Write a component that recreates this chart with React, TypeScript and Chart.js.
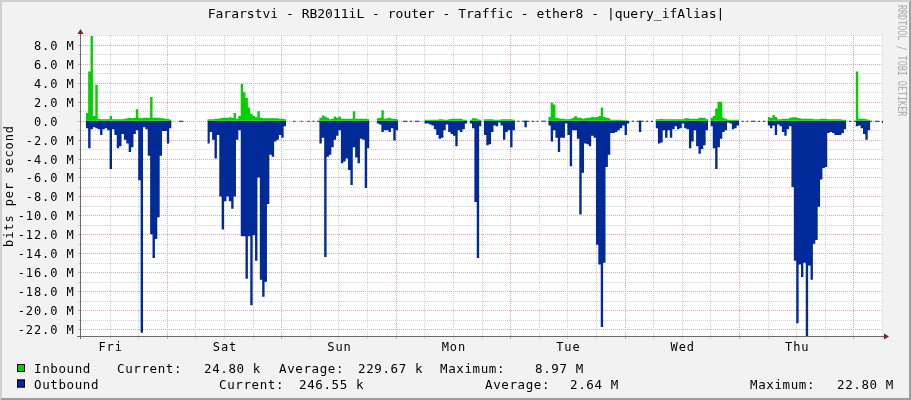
import React, { useEffect, useRef } from "react";
import { Chart, registerables } from "chart.js";

Chart.register(...registerables);

const W = 911;
const H = 400;
const FONT = '"DejaVu Sans Mono", monospace';

const TITLE = "Fararstvi - RB2011iL - router - Traffic - ether8 - |query_ifAlias|";
const Y_AXIS_TITLE = "bits per second";
const WATERMARK = "RRDTOOL / TOBI OETIKER";

// one sample every 30 minutes, starting Fri 06:00 (hours from start)
const STEP_HOURS = 0.5;
const X_MIN_H = 0;
const X_MAX_H = 168.2;
const Y_MIN_M = -22.74;
const Y_MAX_M = 9.05;

// Inbound, Mbit/s
const INBOUND_M: (number | null)[] = [
  null, null, 0.8, 5.2, 8.95, 0.5, 3.8, 0.2, 0.15, 0.15, 0.15, 0.15,
  0.5, 0.15, 0.15, 0.15, 0.15, 0.15, 0.2, 0.25, 0.3, 0.25, 0.3, 1.2,
  0.3, 0.25, 0.3, 0.3, 0.3, 2.5, 0.3, 0.3, 0.3, 0.25, 0.25, 0.2,
  0.2, 0.1, null, null, null, 0, 0, null, null, null, null, null,
  null, null, null, null, null, 0.15, 0.15, 0.15, 0.2, 0.2, 0.25, 0.3,
  0.3, 0.3, 0.35, 0.3, 0.8, 0.2, 0.5, 3.9, 3.0, 2.4, 1.4, 0.7,
  0.5, 0.35, 1.0, 0.3, 0.25, 0.25, 0.25, 0.25, 0.25, 0.25, 0.25, 0.2,
  0.2, 0.15, null, null, null, 0, null, null, 0, null, null, 0,
  null, 0, null, 0, 0.3, 0.55, 0.45, 0.3, 0.15, 0.2, 0.45, 0.3,
  0.45, 0.2, 0.2, 0.2, 0.2, 0.2, 1.0, 0.2, 0.2, 0.2, 0.2, 0.2,
  0.15, null, null, null, 0.25, 0.3, 1.1, 0.2, 0.25, 0.3, 0.2, 0.2,
  0.15, null, null, 0, 0, null, 0, null, 0, 0, null, null,
  0.1, 0.1, 0.1, 0.1, 0.1, 0.1, 0.15, 0.15, 0.1, 0.1, 0.15, 0.2,
  0.2, 0.2, 0.2, 0.2, 0.1, 0.1, null, 0.1, 0.25, 0.25, 0.15, 0.1,
  null, 0.15, 0.15, 0.15, 0.15, 0.1, 0.1, 0.1, 0.15, 0.15, 0.15, 0.15,
  0.15, 0.1, null, 0, null, 0, 0.05, 0, null, 0, null, 0,
  null, 0, 0, null, 0.4, 1.9, 1.7, 0.3, 0.25, 0.2, 0.2, 0.15,
  0.15, 0.2, 0.3, 0.5, 0.3, 0.3, 0.2, 0.25, 0.3, 0.3, 0.4, 0.35,
  0.4, 0.5, 1.4, 0.4, 0.3, 0.25, 0.1, 0.1, 0.1, 0.1, 0.1, 0.05,
  0.05, 0, null, 0, null, 0, 0.05, 0, null, 0, null, 0,
  null, 0.15, 0.15, 0.2, 0.15, 0.15, 0.15, 0.15, 0.15, 0.15, 0.15, 0.15,
  0.15, 0.25, 0.25, 0.2, 0.2, 0.2, 0.2, 0.3, 0.3, 0.3, 0.15, null,
  0.3, 0.5, 1.3, 2.0, 2.0, 0.3, 0.2, 0.1, 0.1, 0.1, 0.1, 0.1,
  null, 0, null, 0, null, 0, 0, null, 0, null, 0, null,
  0.4, 0.3, 0.6, 0.4, 0.15, 0.15, 0.2, 0.2, 0.2, 0.3, 0.35, 0.35,
  0.3, 0.25, 0.2, 0.2, 0.2, 0.2, 0.2, 0.15, 0.15, 0.15, 0.2, 0.2,
  0.2, 0.15, 0.15, 0.15, 0.15, 0.15, 0.15, 0.1, 0.1, null, 0, null,
  0, 5.2, 0.2, 0.2, 0.2, 0.15, 0.1, 0, null, 0, 0, null,
  0.025,
];

// Outbound, Mbit/s (drawn below zero)
const OUTBOUND_M: (number | null)[] = [
  null, null, 0.8, 2.9, 0.9, 0.7, 0.8, 0.9, 1.5, 0.9, 0.8, 1.0,
  5.1, 0.9, 1.5, 2.9, 2.7, 1.4, 2.0, 2.4, 3.3, 2.8, 1.4, 1.0,
  6.3, 22.4, 0.7, 0.9, 3.7, 12.0, 14.5, 12.5, 10.2, 3.7, 1.1, 1.1,
  2.4, 0.8, null, null, null, 0.1, 0.1, null, null, null, null, null,
  null, null, null, null, null, 2.4, 1.2, 2.0, 4.0, 1.5, 8.0, 11.5,
  8.5, 8.0, 8.5, 9.3, 8.0, 2.0, 1.0, 12.2, 12.2, 16.7, 12.2, 19.5,
  12.1, 14.8, 6.0, 16.8, 18.6, 17.0, 8.8, 3.6, 3.8, 2.2, 2.0, 1.5,
  1.8, 0.6, null, null, null, 0.1, null, null, 0.1, null, null, 0.1,
  null, 0.1, null, 0.1, 2.4, 1.8, 14.4, 3.8, 3.6, 2.8, 2.0, 1.6,
  1.0, 4.5, 4.3, 4.0, 5.2, 6.8, 2.8, 3.9, 4.5, 1.9, 2.0, 7.1,
  2.9, null, null, null, 0.3, 0.4, 1.2, 1.0, 1.0, 1.2, 0.8, 2.1,
  1.0, null, null, 0.1, 0.1, null, 0.1, null, 0.1, 0.1, null, null,
  0.3, 0.3, 0.4, 0.5, 0.9, 1.5, 1.9, 1.8, 1.0, 0.4, 1.2, 1.4,
  1.6, 2.7, 1.0, 1.2, 0.9, 0.3, null, 0.3, 0.8, 8.6, 14.5, 0.6,
  null, 1.5, 2.6, 2.5, 1.2, 0.5, 0.6, 0.2, 0.5, 2.0, 1.2, 1.0,
  2.8, 1.0, null, 0.1, null, 0.1, 0.7, 0.1, null, 0.1, null, 0.1,
  null, 0.1, 0.1, null, 0.5, 2.2, 1.0, 1.8, 3.3, 1.8, 1.8, 0.3,
  1.5, 4.8, 1.0, 1.0, 1.9, 9.9, 5.5, 2.4, 2.5, 2.7, 1.6, 1.8,
  13.1, 15.2, 21.8, 15.0, 4.9, 3.6, 1.3, 1.3, 1.2, 1.0, 0.8, 0.5,
  1.5, 0.3, null, 0.1, null, 0.1, 1.2, 0.1, null, 0.1, null, 0.1,
  null, 0.8, 2.4, 2.3, 1.0, 1.8, 1.0, 1.8, 0.9, 0.6, 0.9, 0.8,
  0.3, 0.8, 0.9, 2.9, 2.2, 1.0, 2.7, 3.5, 3.0, 2.6, 1.0, null,
  0.6, 2.9, 5.1, 2.8, 1.9, 1.2, 1.0, 0.2, 0.3, 0.9, 0.8, 0.5,
  null, 0.1, null, 0.1, null, 0.1, 0.1, null, 0.1, null, 0.1, null,
  0.5, 0.8, 0.5, 1.5, 0.4, 0.6, 1.2, 1.6, 0.9, 0.6, 7.0, 14.8,
  21.4, 15.2, 16.5, 15.0, 22.8, 15.3, 16.8, 13.0, 12.6, 9.1, 6.2, 5.0,
  4.9, 1.3, 1.2, 1.3, 1.5, 1.5, 1.5, 1.3, 0.9, null, 0.1, null,
  0.1, 0.6, 0.5, 0.8, 1.4, 2.0, 1.0, 0.1, null, 0.1, 0.1, null,
  0.25,
];

const Y_TICKS_M = [8, 6, 4, 2, 0, -2, -4, -6, -8, -10, -12, -14, -16, -18, -20, -22];
const Y_TICK_LABELS = [
  "8.0 M", "6.0 M", "4.0 M", "2.0 M", "0.0  ", "-2.0 M", "-4.0 M", "-6.0 M",
  "-8.0 M", "-10.0 M", "-12.0 M", "-14.0 M", "-16.0 M", "-18.0 M", "-20.0 M", "-22.0 M",
];
const Y_MINOR_STEP_M = 1;

const DAY_LABELS = ["Fri", "Sat", "Sun", "Mon", "Tue", "Wed", "Thu"];
const DAY_LABEL_HOURS = [6, 30, 54, 78, 102, 126, 150];
const DAY_START_HOURS = [18, 42, 66, 90, 114, 138, 162];
const X_MINOR_STEP_H = 6;

const SERIES_NAMES = ["Inbound", "Outbound"];
const SERIES_COLORS = ["#00CF00", "#002A97"];
const CURRENT_VALUES = ["24.80 k", "246.55 k"];
const AVERAGE_VALUES = ["229.67 k", "2.64 M"];
const MAXIMUM_VALUES = ["8.97 M", "22.80 M"];

function stepPoints(vals: (number | null)[], sign: number) {
  const pts: { x: number; y: number | null }[] = [];
  vals.forEach((v, i) => {
    const t0 = i * STEP_HOURS;
    const t1 = (i + 1) * STEP_HOURS;
    if (v === null) {
      pts.push({ x: t0, y: null });
      return;
    }
    pts.push({ x: t0, y: sign * v * 1e6 }, { x: t1, y: sign * v * 1e6 });
  });
  return pts;
}

const MINOR_GRID = "#d2d2d2";
const MAJOR_GRID = "#eba3a3";
const AXIS = "#6a6a6a";
const ARROW = "#801f1f";

const rrdPlugin = {
  id: "rrdFrame",
  beforeDraw(chart: any) {
    const ctx: CanvasRenderingContext2D = chart.ctx;
    const { left, right, top, bottom } = chart.chartArea;
    const xs = chart.scales.x;
    const ys = chart.scales.y;
    ctx.save();
    ctx.fillStyle = "#f2f2f2";
    ctx.fillRect(0, 0, W, H);
    ctx.fillStyle = "#cfcfcf";
    ctx.beginPath();
    ctx.moveTo(0, 0); ctx.lineTo(0, H); ctx.lineTo(2, H - 2); ctx.lineTo(2, 2);
    ctx.lineTo(W - 2, 2); ctx.lineTo(W, 0); ctx.closePath(); ctx.fill();
    ctx.fillStyle = "#9e9e9e";
    ctx.beginPath();
    ctx.moveTo(0, H); ctx.lineTo(2, H - 2); ctx.lineTo(W - 2, H - 2); ctx.lineTo(W - 2, 2);
    ctx.lineTo(W, 0); ctx.lineTo(W, H); ctx.closePath(); ctx.fill();

    ctx.fillStyle = "#ffffff";
    ctx.fillRect(left, top, right - left, bottom - top);

    ctx.lineWidth = 1;
    // horizontal grid
    for (let m = Math.ceil(Y_MIN_M); m <= Math.floor(Y_MAX_M); m += Y_MINOR_STEP_M) {
      const major = Y_TICKS_M.indexOf(m) >= 0;
      const y = Math.round(ys.getPixelForValue(m * 1e6)) + 0.5;
      ctx.strokeStyle = major ? MAJOR_GRID : MINOR_GRID;
      ctx.setLineDash([1, 1]);
      ctx.beginPath(); ctx.moveTo(left, y); ctx.lineTo(right, y); ctx.stroke();
      ctx.setLineDash([]);
      ctx.beginPath(); ctx.moveTo(left - 3, y); ctx.lineTo(left, y); ctx.stroke();
    }
    // vertical grid
    for (let h = X_MINOR_STEP_H; h <= X_MAX_H; h += X_MINOR_STEP_H) {
      const major = DAY_START_HOURS.indexOf(h) >= 0;
      const x = Math.round(xs.getPixelForValue(h)) + 0.5;
      ctx.strokeStyle = major ? MAJOR_GRID : MINOR_GRID;
      ctx.setLineDash([1, 1]);
      ctx.beginPath(); ctx.moveTo(x, top); ctx.lineTo(x, bottom); ctx.stroke();
      ctx.setLineDash([]);
      ctx.beginPath(); ctx.moveTo(x, bottom); ctx.lineTo(x, bottom + 3); ctx.stroke();
    }
    ctx.restore();
  },
  afterDatasetsDraw(chart: any) {
    const ctx: any = chart.ctx;
    const { left, right, top, bottom } = chart.chartArea;
    const xs = chart.scales.x;
    const ys = chart.scales.y;
    ctx.save();
    // axes
    const ax = left - 0.5;
    const ay = bottom + 0.5;
    ctx.strokeStyle = AXIS;
    ctx.lineWidth = 1;
    ctx.beginPath();
    ctx.moveTo(ax, bottom + 3); ctx.lineTo(ax, top - 2);
    ctx.moveTo(left - 4, ay); ctx.lineTo(right + 2, ay);
    ctx.stroke();
    // arrows
    ctx.fillStyle = ARROW;
    ctx.beginPath();
    ctx.moveTo(ax - 3, top - 1); ctx.lineTo(ax + 3, top - 1); ctx.lineTo(ax, top - 6); ctx.closePath(); ctx.fill();
    ctx.beginPath();
    ctx.moveTo(right + 1, ay - 3); ctx.lineTo(right + 1, ay + 3); ctx.lineTo(right + 6, ay); ctx.closePath(); ctx.fill();

    // y tick labels
    ctx.fillStyle = "#000";
    ctx.font = `12px ${FONT}`;
    ctx.letterSpacing = "0.9px";
    ctx.textAlign = "right";
    ctx.textBaseline = "alphabetic";
    Y_TICKS_M.forEach((m, i) => {
      const y = Math.round(ys.getPixelForValue(m * 1e6));
      ctx.fillText(Y_TICK_LABELS[i], 74.5, y + 5);
    });
    // x labels
    ctx.textAlign = "center";
    DAY_LABELS.forEach((d, i) => {
      const x = xs.getPixelForValue(DAY_LABEL_HOURS[i]);
      ctx.fillText(d, x + 1, 351);
    });
    // y axis title
    ctx.save();
    ctx.translate(13, 186);
    ctx.rotate(-Math.PI / 2);
    ctx.textAlign = "center";
    ctx.fillText(Y_AXIS_TITLE, 0, 0);
    ctx.restore();

    // title
    ctx.letterSpacing = "0px";
    ctx.font = `13px ${FONT}`;
    ctx.textAlign = "center";
    ctx.fillText(TITLE, 466, 18);

    // watermark
    ctx.save();
    ctx.fillStyle = "#ababab";
    ctx.translate(898, 5);
    ctx.rotate(Math.PI / 2);
    ctx.scale(0.7, 1);
    ctx.font = `12px ${FONT}`;
    ctx.textAlign = "left";
    ctx.fillText(WATERMARK, 0, 0);
    ctx.restore();

    // legend
    ctx.font = `12.5px ${FONT}`;
    ctx.letterSpacing = "0.6px";
    ctx.textAlign = "left";
    const rows = [
      { y: 373, name: 34, cur: 117, curV: 204, avg: 279, avgV: 358, max: 440, maxV: 535 },
      { y: 388.5, name: 34, cur: 219, curV: 299, avg: 485, avgV: 570, max: 750, maxV: 837 },
    ];
    rows.forEach((r, i) => {
      ctx.fillStyle = SERIES_COLORS[i];
      ctx.fillRect(17, r.y - 9, 8, 8);
      ctx.strokeStyle = "#000";
      ctx.lineWidth = 1;
      ctx.strokeRect(17.5, r.y - 8.5, 7, 7);
      ctx.fillStyle = "#000";
      ctx.fillText(SERIES_NAMES[i], r.name, r.y);
      ctx.fillText("Current:", r.cur, r.y);
      ctx.fillText(CURRENT_VALUES[i], r.curV, r.y);
      ctx.fillText("Average:", r.avg, r.y);
      ctx.fillText(AVERAGE_VALUES[i], r.avgV, r.y);
      ctx.fillText("Maximum:", r.max, r.y);
      ctx.fillText(MAXIMUM_VALUES[i], r.maxV, r.y);
    });
    ctx.restore();
  },
};

export default function App() {
  const ref = useRef<HTMLCanvasElement>(null);
  useEffect(() => {
    const canvas = ref.current;
    if (!canvas) return;
    const chart = new Chart(canvas, {
      type: "line",
      data: {
        datasets: [
          {
            label: SERIES_NAMES[0],
            data: stepPoints(INBOUND_M, 1) as any,
            fill: "origin",
            backgroundColor: SERIES_COLORS[0],
            borderColor: "rgba(0,0,0,0)",
            borderWidth: 0,
            pointRadius: 0,
            tension: 0,
          },
          {
            label: SERIES_NAMES[1],
            data: stepPoints(OUTBOUND_M, -1) as any,
            fill: "origin",
            backgroundColor: SERIES_COLORS[1],
            borderColor: "rgba(0,0,0,0)",
            borderWidth: 0,
            pointRadius: 0,
            tension: 0,
          },
        ],
      },
      options: {
        animation: false,
        responsive: false,
        devicePixelRatio: 1,
        events: [],
        layout: { padding: { left: 81, top: 35, right: 28, bottom: 64 } },
        plugins: {
          legend: { display: false },
          tooltip: { enabled: false },
          title: { display: false },
        },
        scales: {
          x: { type: "linear", min: X_MIN_H, max: X_MAX_H, display: false },
          y: { type: "linear", min: Y_MIN_M * 1e6, max: Y_MAX_M * 1e6, display: false },
        },
      },
      plugins: [rrdPlugin],
    });
    return () => chart.destroy();
  }, []);
  return (
    <div style={{ position: "fixed", left: 0, top: 0, width: W, height: H }}>
      <canvas ref={ref} width={W} height={H} style={{ display: "block", width: W, height: H }} />
    </div>
  );
}
